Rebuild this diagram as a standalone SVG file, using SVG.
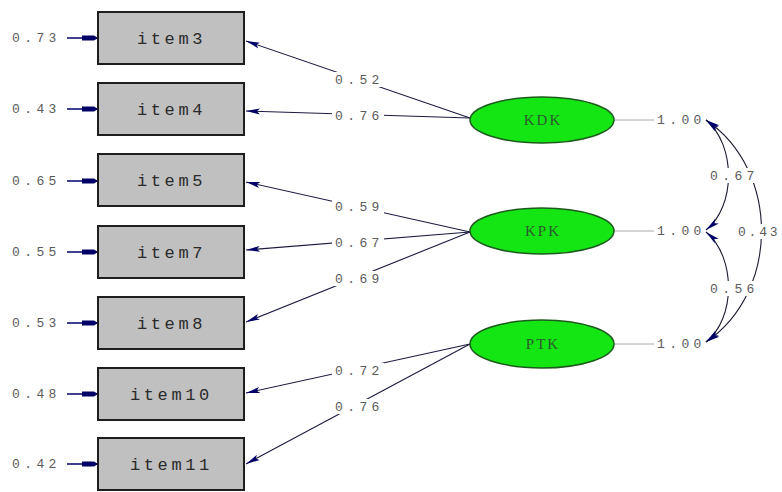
<svg xmlns="http://www.w3.org/2000/svg" width="782" height="492" viewBox="0 0 782 492">
<style>
.box{fill:#c0c0c0;stroke:#1e1e1e;stroke-width:2}
.lat{fill:#14e614;stroke:#1d5a1d;stroke-width:1.5}
.itm{font-family:"Liberation Mono",monospace;font-size:17px;letter-spacing:3.6px;fill:#2a2a2a}
.lt{font-family:"Liberation Serif",serif;font-size:15px;letter-spacing:2px;fill:#2d5a2d;text-anchor:middle}
.val{font-family:"Liberation Mono",monospace;font-size:13px;letter-spacing:4.4px;fill:#5a5a5a}
.ld{stroke:#1a1a40;stroke-width:1.1;fill:none}
.er{stroke:#000066;stroke-width:1.5;fill:none}
.cv{stroke:#1a1a30;stroke-width:1.1;fill:none}
.vr{stroke:#a8a8a8;stroke-width:1;fill:none}
.bg{fill:#ffffff}
</style>
<defs>
<marker id="ah" markerUnits="userSpaceOnUse" markerWidth="14" markerHeight="8" refX="14" refY="4" orient="auto">
<path d="M0,1 L14,4 L0,7 L3,4 z" fill="#000066"/>
</marker>
<marker id="ahs" markerUnits="userSpaceOnUse" markerWidth="14" markerHeight="8" refX="14" refY="4" orient="auto-start-reverse">
<path d="M0,1 L14,4 L0,7 L3,4 z" fill="#000066"/>
</marker>
<marker id="eh" markerUnits="userSpaceOnUse" markerWidth="16" markerHeight="8" refX="16" refY="4" orient="auto">
<path d="M0,1.5 L12,1.5 L16,4 L12,6.5 L0,6.5 z" fill="#000066"/>
</marker>
</defs>

<g id="connectors">
<line class="ld" x1="470" y1="118" x2="246" y2="41" marker-end="url(#ah)"/>
<line class="ld" x1="470" y1="118" x2="246" y2="111" marker-end="url(#ah)"/>
<line class="ld" x1="470" y1="232" x2="246" y2="182" marker-end="url(#ah)"/>
<line class="ld" x1="470" y1="232" x2="246" y2="250" marker-end="url(#ah)"/>
<line class="ld" x1="470" y1="232" x2="246" y2="322" marker-end="url(#ah)"/>
<line class="ld" x1="470" y1="344" x2="246" y2="393" marker-end="url(#ah)"/>
<line class="ld" x1="470" y1="344" x2="246" y2="464" marker-end="url(#ah)"/>
<line class="er" x1="67" y1="38" x2="98" y2="38" marker-end="url(#eh)"/>
<line class="er" x1="67" y1="109" x2="98" y2="109" marker-end="url(#eh)"/>
<line class="er" x1="67" y1="181" x2="98" y2="181" marker-end="url(#eh)"/>
<line class="er" x1="67" y1="252" x2="98" y2="252" marker-end="url(#eh)"/>
<line class="er" x1="67" y1="323" x2="98" y2="323" marker-end="url(#eh)"/>
<line class="er" x1="67" y1="394" x2="98" y2="394" marker-end="url(#eh)"/>
<line class="er" x1="67" y1="464" x2="98" y2="464" marker-end="url(#eh)"/>
<line class="vr" x1="614" y1="120" x2="654" y2="120"/>
<line class="vr" x1="614" y1="231" x2="654" y2="231"/>
<line class="vr" x1="614" y1="344" x2="654" y2="344"/>
<path class="cv" d="M706,120 C736,145 736,206 706,230" marker-start="url(#ahs)" marker-end="url(#ah)"/>
<path class="cv" d="M706,232 C736,257 736,318 706,342" marker-start="url(#ahs)" marker-end="url(#ah)"/>
<path class="cv" d="M706,120 C780,170 780,292 706,342" marker-start="url(#ahs)" marker-end="url(#ah)"/>
<rect class="bg" x="332" y="72" width="52" height="15"/>
<rect class="bg" x="332" y="108" width="52" height="15"/>
<rect class="bg" x="332" y="199" width="52" height="15"/>
<rect class="bg" x="332" y="235" width="52" height="15"/>
<rect class="bg" x="332" y="271" width="52" height="15"/>
<rect class="bg" x="332" y="363" width="52" height="15"/>
<rect class="bg" x="332" y="399" width="52" height="15"/>
<rect class="bg" x="708" y="168" width="50" height="15"/>
<rect class="bg" x="708" y="281" width="50" height="15"/>
<rect class="bg" x="736" y="224" width="46" height="15"/>
<text class="val" x="335" y="84">0.52</text>
<text class="val" x="335" y="120">0.76</text>
<text class="val" x="335" y="211">0.59</text>
<text class="val" x="335" y="247">0.67</text>
<text class="val" x="335" y="283">0.69</text>
<text class="val" x="335" y="375">0.72</text>
<text class="val" x="335" y="411">0.76</text>
<text class="val" x="710" y="180">0.67</text>
<text class="val" x="710" y="293">0.56</text>
<text class="val" x="738" y="236" style="letter-spacing:2.8px">0.43</text>
<text class="val" x="657" y="124">1.00</text>
<text class="val" x="657" y="235">1.00</text>
<text class="val" x="657" y="348">1.00</text>
<text class="val" x="12" y="42">0.73</text>
<text class="val" x="12" y="113">0.43</text>
<text class="val" x="12" y="185">0.65</text>
<text class="val" x="12" y="256">0.55</text>
<text class="val" x="12" y="327">0.53</text>
<text class="val" x="12" y="398">0.48</text>
<text class="val" x="12" y="468">0.42</text>
</g>

<g id="item3"><rect class="box" x="98" y="12" width="146" height="52"/><text class="itm" x="137" y="44">item3</text></g>
<g id="item4"><rect class="box" x="98" y="83" width="146" height="52"/><text class="itm" x="137" y="115">item4</text></g>
<g id="item5"><rect class="box" x="98" y="154" width="146" height="52"/><text class="itm" x="137" y="186">item5</text></g>
<g id="item7"><rect class="box" x="98" y="226" width="146" height="52"/><text class="itm" x="137" y="258">item7</text></g>
<g id="item8"><rect class="box" x="98" y="297" width="146" height="52"/><text class="itm" x="137" y="329">item8</text></g>
<g id="item10"><rect class="box" x="98" y="368" width="146" height="52"/><text class="itm" x="130" y="400">item10</text></g>
<g id="item11"><rect class="box" x="98" y="438" width="146" height="52"/><text class="itm" x="130" y="470">item11</text></g>

<g id="KDK"><ellipse class="lat" cx="542" cy="120" rx="72" ry="23"/><text class="lt" x="543" y="125">KDK</text></g>
<g id="KPK"><ellipse class="lat" cx="542" cy="231" rx="72" ry="23"/><text class="lt" x="543" y="236">KPK</text></g>
<g id="PTK"><ellipse class="lat" cx="542" cy="344" rx="72" ry="24"/><text class="lt" x="543" y="349">PTK</text></g>
</svg>
